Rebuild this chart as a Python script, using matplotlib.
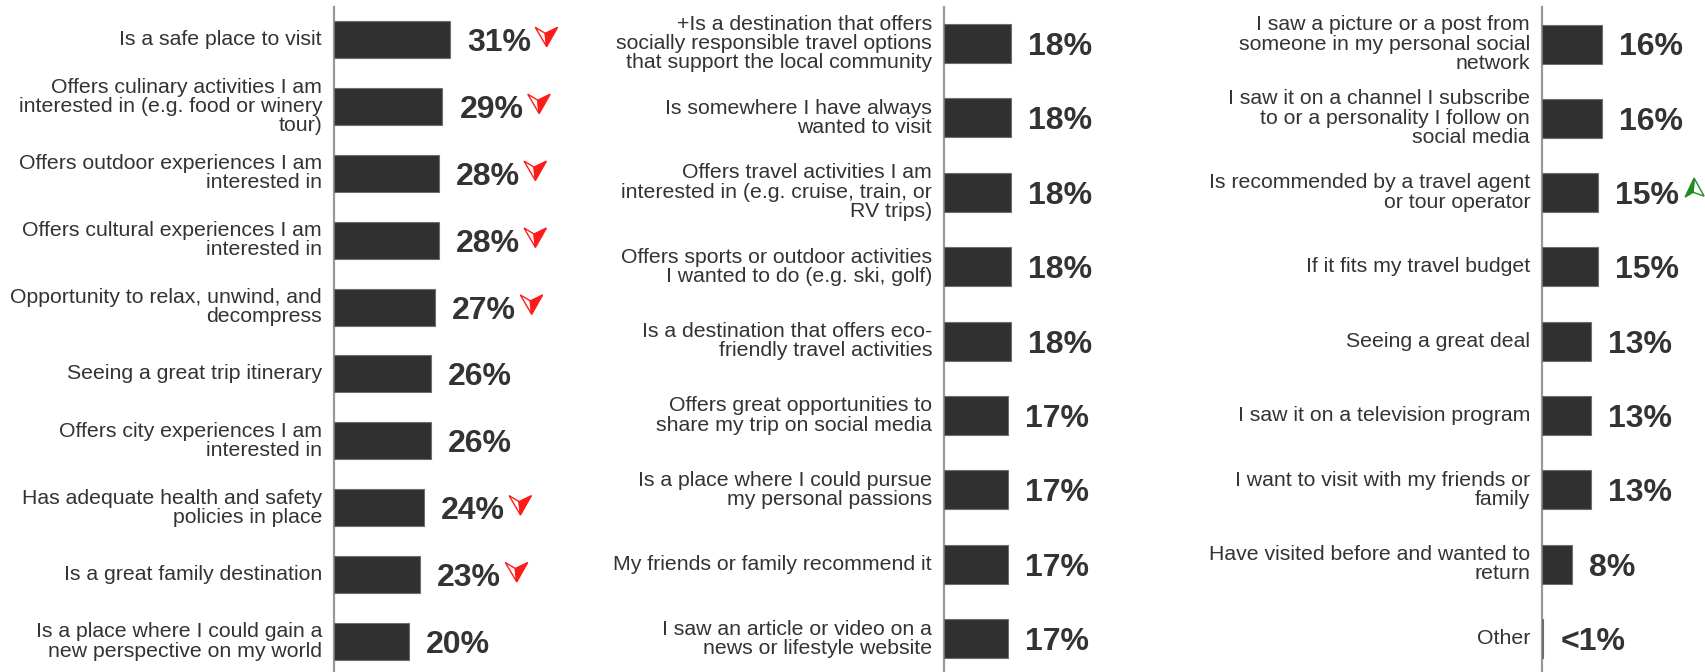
import matplotlib.pyplot as plt
from matplotlib.patches import Polygon
from matplotlib.transforms import Affine2D, ScaledTranslation

plt.rcParams['font.family'] = ['Liberation Sans', 'DejaVu Sans']

labels_1 = ["Is a safe place to visit",
            "Offers culinary activities I am\ninterested in (e.g. food or winery\ntour)",
            "Offers outdoor experiences I am\ninterested in",
            "Offers cultural experiences I am\ninterested in",
            "Opportunity to relax, unwind, and\ndecompress",
            "Seeing a great trip itinerary",
            "Offers city experiences I am\ninterested in",
            "Has adequate health and safety\npolicies in place",
            "Is a great family destination",
            "Is a place where I could gain a\nnew perspective on my world"]
values_1 = [31, 29, 28, 28, 27, 26, 26, 24, 23, 20]
trend_1 = ['down', 'down', 'down', 'down', 'down', None, None, 'down', 'down', None]

labels_2 = ["+Is a destination that offers\nsocially responsible travel options\nthat support the local community",
            "Is somewhere I have always\nwanted to visit",
            "Offers travel activities I am\ninterested in (e.g. cruise, train, or\nRV trips)",
            "Offers sports or outdoor activities\nI wanted to do (e.g. ski, golf)",
            "Is a destination that offers eco-\nfriendly travel activities",
            "Offers great opportunities to\nshare my trip on social media",
            "Is a place where I could pursue\nmy personal passions",
            "My friends or family recommend it",
            "I saw an article or video on a\nnews or lifestyle website"]
values_2 = [18, 18, 18, 18, 18, 17, 17, 17, 17]
trend_2 = [None] * 9

labels_3 = ["I saw a picture or a post from\nsomeone in my personal social\nnetwork",
            "I saw it on a channel I subscribe\nto or a personality I follow on\nsocial media",
            "Is recommended by a travel agent\nor tour operator",
            "If it fits my travel budget",
            "Seeing a great deal",
            "I saw it on a television program",
            "I want to visit with my friends or\nfamily",
            "Have visited before and wanted to\nreturn",
            "Other"]
values_3 = [16, 16, 15, 15, 13, 13, 13, 8, 0.4]
shown_3 = ["16%", "16%", "15%", "15%", "13%", "13%", "13%", "8%", "<1%"]
trend_3 = [None, None, 'up', None, None, None, None, None, None]

W, H = 1706, 672
PX_PER_PCT = 3.74
TXT = '#333333'

fig = plt.figure(figsize=(W / 100, H / 100), dpi=100)


# trend marker: a small dart, one half outlined and the other half filled
def trend_arrow(ax, val, row, kind):
    if kind == 'down':
        outline = [(96.7, -7.2), (85.3, 12.2), (95.3, 6.2)]
        filled = [(96.7, -7.2), (95.3, 6.2), (107.7, 12.2)]
        col = '#ff1a1a'
    else:
        filled = [(96.0, 14.5), (87.0, -4.5), (95.0, 0.3)]
        outline = [(96.0, 14.5), (95.0, 0.3), (106.0, -3.5)]
        col = '#1e8c1e'
    tr = Affine2D() + ScaledTranslation(val, row, ax.transData)
    ax.add_patch(Polygon(outline, closed=True, facecolor='white', edgecolor=col,
                         lw=1.0, transform=tr, clip_on=False, zorder=5))
    ax.add_patch(Polygon(filled, closed=True, facecolor=col, edgecolor=col,
                         lw=1.0, transform=tr, clip_on=False, zorder=5))


def panel(axis_x, first_center, spacing, bar_px, labels, values, shown, trends):
    top = 7
    ax = fig.add_axes([axis_x / W, 0, 240 / W, (H - top) / H])
    n = len(values)
    y = list(range(n))
    off = (first_center - top) / spacing
    ax.set_ylim((H - top) / spacing - off, -off)
    ax.set_xlim(0, 240 / PX_PER_PCT)
    ax.barh(y, values, height=bar_px / spacing, color='#303030',
            edgecolor='#6e6e6e', linewidth=0.8, zorder=3)
    for i in range(n):
        ax.annotate(labels[i], (0, i), xytext=(-8.6, 0), textcoords='offset points',
                    ha='right', va='center', multialignment='right', fontsize=15.3,
                    color=TXT, linespacing=1.02, annotation_clip=False)
        ax.annotate(shown[i], (values[i], i), xytext=(12.2, -2.5), textcoords='offset points',
                    ha='left', va='center', fontsize=23, fontweight='bold',
                    color=TXT, annotation_clip=False)
        if trends[i]:
            trend_arrow(ax, values[i], i, trends[i])
    for s in ['top', 'right', 'bottom']:
        ax.spines[s].set_visible(False)
    ax.spines['left'].set_color('#999999')
    ax.spines['left'].set_linewidth(1.6)
    ax.set_xticks([])
    ax.set_yticks([])
    ax.patch.set_alpha(0)
    return ax


panel(334, 39.5, 66.9, 37, labels_1, values_1, [f"{v}%" for v in values_1], trend_1)
panel(944, 43.5, 74.4, 39, labels_2, values_2, [f"{v}%" for v in values_2], trend_2)
panel(1542, 44, 74.3, 39, labels_3, values_3, shown_3, trend_3)

fig.savefig('out.png', dpi=100)
